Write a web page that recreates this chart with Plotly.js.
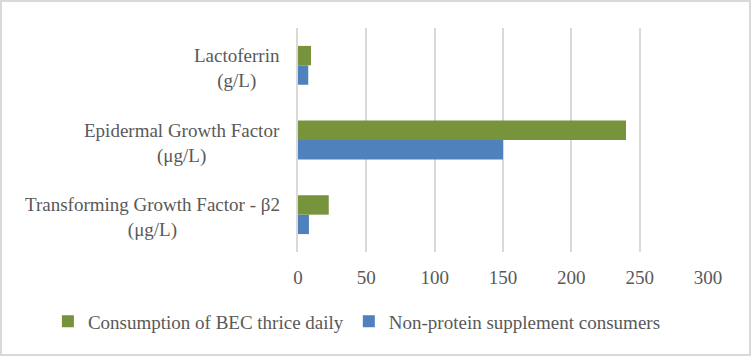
<!DOCTYPE html>
<html>
<head>
<meta charset="utf-8">
<script src="https://cdn.plot.ly/plotly-3.0.1.min.js"></script>
<style>
html,body{margin:0;padding:0;background:#fff;}
#chart{width:751px;height:356px;box-sizing:border-box;border:2px solid #d9d9d9;}
</style>
</head>
<body>
<div id="chart"></div>
<script>
var categories = ["TGF", "EGF", "Lactoferrin"];
var categoryLabels = ["Transforming Growth Factor - β2<br>(μg/L)", "Epidermal Growth Factor<br>(μg/L)", "Lactoferrin<br>(g/L)"];
var seriesNames = ["Non-protein supplement consumers", "Consumption of BEC thrice daily"];
var nonProtein = [8, 150, 7.5];
var bec = [22.5, 240, 9.5];
var tickVals = [0, 50, 100, 150, 200, 250, 300];

var font = "Liberation Serif, Times New Roman, serif";
var grey = "#595959";
var fs = 19;

var traces = [
  {type: "bar", orientation: "h", name: seriesNames[0], y: categories, x: nonProtein,
   marker: {color: "#4f81bd"}},
  {type: "bar", orientation: "h", name: seriesNames[1], y: categories, x: bec,
   marker: {color: "#77933c"}}
];

var annotations = categories.map(function(c, i){
  return {xref: "paper", yref: "y", x: -0.04, y: c, yshift: -3, text: categoryLabels[i],
          showarrow: false, xanchor: "right", yanchor: "middle", align: "center",
          font: {family: font, size: fs, color: grey}};
});

var layout = {
  width: 747, height: 352,
  margin: {l: 296, r: 41, t: 26, b: 102, pad: 0},
  paper_bgcolor: "#fff", plot_bgcolor: "#fff",
  barmode: "group", bargap: 0.48, bargroupgap: 0,
  showlegend: true,
  legend: {orientation: "h", traceorder: "reversed", x: -0.61, xanchor: "left",
           y: -0.225, yanchor: "top", font: {family: font, size: fs, color: grey},
           itemwidth: 30},
  xaxis: {range: [0, 300], tickvals: tickVals, showgrid: true, gridcolor: "#d9d9d9",
          gridwidth: 2, zeroline: false, showline: false, ticks: "",
          ticklabelstandoff: 12,
          tickfont: {family: font, size: fs, color: grey}, fixedrange: true},
  yaxis: {type: "category", categoryarray: categories, showticklabels: false,
          showgrid: false, zeroline: false, showline: true, linecolor: "#d9d9d9", linewidth: 2,
          ticks: "", fixedrange: true},
  annotations: annotations,
  font: {family: font, color: grey}
};

Plotly.newPlot("chart", traces, layout, {displayModeBar: false, staticPlot: true});
</script>
</body>
</html>
